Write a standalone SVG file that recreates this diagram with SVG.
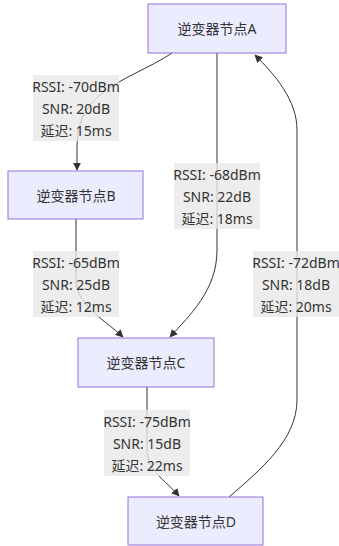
<svg xmlns="http://www.w3.org/2000/svg" width="339" height="546" viewBox="0 0 339 546">
<style>
.node rect{fill:#ECECFF;stroke:#9370DB;stroke-width:1}
.node text{font-family:"Noto Sans","Noto Sans CJK SC",sans-serif;font-size:14px;fill:#333;text-anchor:middle;dominant-baseline:central}
.edge{fill:none;stroke:#333;stroke-width:1;marker-end:url(#arr)}
.lbl rect{fill:#e8e8e8;fill-opacity:0.8}
.lbl text{font-family:"Noto Sans","Noto Sans CJK SC",sans-serif;font-size:14px;fill:#333;text-anchor:middle;dominant-baseline:central}
</style>
<defs>
<marker id="arr" viewBox="0 0 10 10" refX="9" refY="5" markerWidth="8" markerHeight="8" markerUnits="userSpaceOnUse" orient="auto">
<path d="M0,0 L10,5 L0,10 z" fill="#333"/>
</marker>
</defs>
<rect width="339" height="546" fill="#fff"/>
<g id="connectors">
<path class="edge" d="M172,53 C150,68 120,78 100,95 C80,112 77,130 77,150 L77,170"/>
<path class="edge" d="M217,53 L217,250 C217,290 190,315 170,337"/>
<path class="edge" d="M76,219 L76,280 C76,305 105,320 123,337"/>
<path class="edge" d="M147,387 L147,450 C147,470 165,480 179,496"/>
<path class="edge" d="M229,497 C260,470 297,440 297,400 L297,130 C297,100 275,75 255,55"/>
</g>
<g id="labels">
<g class="lbl" id="lblAB"><rect x="33" y="75" width="86" height="66"/><text x="76" y="86">RSSI: -70dBm</text><text x="76" y="108">SNR: 20dB</text><text x="76" y="130">延迟: 15ms</text></g>
<g class="lbl" id="lblAC"><rect x="174" y="163" width="86" height="66"/><text x="217" y="174">RSSI: -68dBm</text><text x="217" y="196">SNR: 22dB</text><text x="217" y="218">延迟: 18ms</text></g>
<g class="lbl" id="lblBC"><rect x="33" y="251" width="86" height="66"/><text x="76" y="262">RSSI: -65dBm</text><text x="76" y="284">SNR: 25dB</text><text x="76" y="306">延迟: 12ms</text></g>
<g class="lbl" id="lblDA"><rect x="253" y="251" width="86" height="66"/><text x="296" y="262">RSSI: -72dBm</text><text x="296" y="284">SNR: 18dB</text><text x="296" y="306">延迟: 20ms</text></g>
<g class="lbl" id="lblCD"><rect x="104" y="410" width="86" height="66"/><text x="147" y="421">RSSI: -75dBm</text><text x="147" y="443">SNR: 15dB</text><text x="147" y="465">延迟: 22ms</text></g>
</g>
<g class="node" id="nodeA"><rect x="148" y="4" width="138" height="49"/><text x="217" y="28">逆变器节点A</text></g>
<g class="node" id="nodeB"><rect x="8" y="171" width="135" height="48"/><text x="76" y="195">逆变器节点B</text></g>
<g class="node" id="nodeC"><rect x="78" y="338" width="136" height="49"/><text x="146" y="362">逆变器节点C</text></g>
<g class="node" id="nodeD"><rect x="128" y="497" width="135" height="48"/><text x="196" y="521">逆变器节点D</text></g>
</svg>
